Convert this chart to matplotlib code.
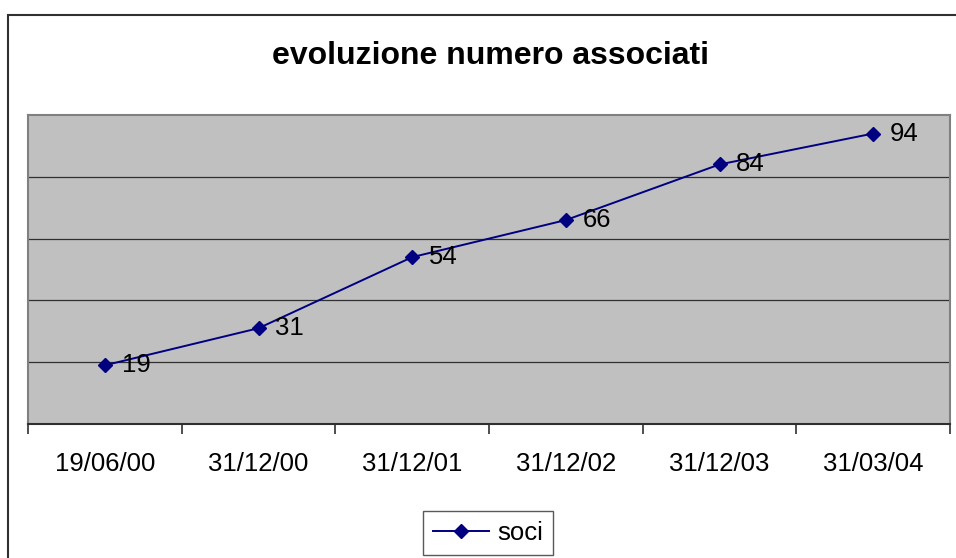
import numpy as np
import matplotlib
matplotlib.use('Agg')
import matplotlib.pyplot as plt
from matplotlib.patches import Rectangle

plt.rcParams['font.family'] = ['Liberation Sans', 'DejaVu Sans']

# data
dates = ['19/06/00', '31/12/00', '31/12/01', '31/12/02', '31/12/03', '31/03/04']
soci = [19, 31, 54, 66, 84, 94]

W, H = 956, 558
fig = plt.figure(figsize=(W / 100, H / 100), dpi=100)

# outer chart frame (like Excel chart area)
fig.patches.append(Rectangle((8 / W, -0.05), 1.1, 1 - 15 / H + 0.05,
                             transform=fig.transFigure, fill=False,
                             edgecolor='#303030', linewidth=1.5))

ax = fig.add_axes([28 / W, 1 - 424 / H, (950 - 28) / W, (424 - 115) / H])
ax.set_facecolor('#C0C0C0')

x = np.arange(len(dates))
line, = ax.plot(x, soci, color='#000080', linewidth=1.4, marker='D',
                markersize=7, label='soci', zorder=3)

for xi, v in zip(x, soci):
    ax.annotate(str(v), (xi, v), xytext=(12, 0), textcoords='offset points',
                ha='left', va='center', fontsize=18.5, color='black')

ax.set_xlim(-0.5, len(dates) - 0.5)
ax.set_ylim(0, 100)

# grid
ax.set_yticks([20, 40, 60, 80])
ax.yaxis.grid(True, color='#303030', linewidth=0.9)
ax.tick_params(axis='y', left=False, labelleft=False)

# category axis: boundary ticks, labels at centers
ax.set_xticks(np.arange(-0.5, len(dates), 1.0))
ax.set_xticklabels([])
ax.set_xticks(x, minor=True)
ax.set_xticklabels(dates, minor=True, fontsize=18.5)
ax.tick_params(axis='x', which='major', direction='out', length=7,
               width=1.2, color='#303030')
ax.tick_params(axis='x', which='minor', length=0, pad=20)

for s in ['left', 'top', 'right']:
    ax.spines[s].set_color('#808080')
    ax.spines[s].set_linewidth(1.5)
ax.spines['bottom'].set_color('#303030')
ax.spines['bottom'].set_linewidth(1.5)

fig.text(490 / W, 1 - 56 / H, 'evoluzione numero associati', ha='center',
         va='center', fontsize=23, fontweight='bold')

leg = fig.legend(handles=[line], loc='center', bbox_to_anchor=(488 / W, 1 - 533 / H),
                 fontsize=18.5, frameon=True, fancybox=False, handlelength=2.2,
                 handletextpad=0.3, borderpad=0.4, borderaxespad=0)
leg.get_frame().set_edgecolor('#303030')
leg.get_frame().set_linewidth(1.0)

fig.savefig('out.png', dpi=100)
